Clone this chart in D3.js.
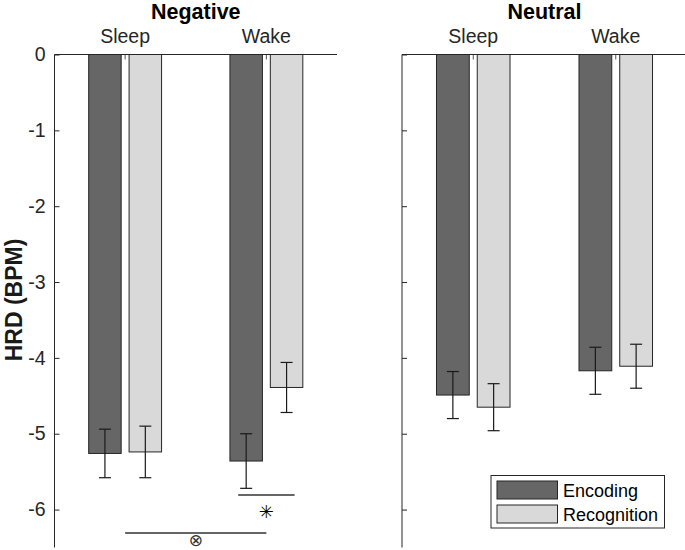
<!DOCTYPE html>
<html><head><meta charset="utf-8">
<script src="https://cdn.jsdelivr.net/npm/d3@7"></script>
<style>body{margin:0;background:#fff}svg{display:block;font-family:"Liberation Sans",Arial,sans-serif}</style>
</head><body><svg id="c" width="685" height="550"></svg>
<script>
const panels = ["Negative", "Neutral"];
const groups = ["Sleep", "Wake"];
const series = ["Encoding", "Recognition"];
const colors = ["#666666", "#d9d9d9"];
// values[group][series]
const negMeans = [[-5.26, -5.24], [-5.36, -4.39]];
const negErrs  = [[0.32, 0.34], [0.36, 0.33]];
const neuMeans = [[-4.49, -4.65], [-4.17, -4.11]];
const neuErrs  = [[0.31, 0.31], [0.31, 0.29]];
const yTicks = [0, -1, -2, -3, -4, -5, -6];

const svg = d3.select("#c");
const y = d3.scaleLinear().domain([-6.5, 0]).range([547.5, 54.5]);
const panelX = [[54.5, 337], [402, 687]];
const means = [negMeans, neuMeans];
const errs = [negErrs, neuErrs];

panels.forEach((p, pi) => {
  const x = d3.scaleLinear().domain([0.5, 2.5]).range(panelX[pi]);
  const g = svg.append("g");
  const step = x(2) - x(1);
  const bw = step * 0.23;
  const off = step * 0.143;
  groups.forEach((grp, gi) => {
    const cx = x(gi + 1);
    series.forEach((s, si) => {
      const bx = cx + (si === 0 ? -off : off);
      const v = means[pi][gi][si];
      g.append("rect").attr("x", bx - bw / 2).attr("y", y(0)).attr("width", bw)
        .attr("height", y(v) - y(0)).attr("fill", colors[si]).attr("stroke", "#262626").attr("stroke-width", 1);
      const e = errs[pi][gi][si];
      const el = g.append("g").attr("stroke", "#1a1a1a").attr("stroke-width", 1.2);
      el.append("line").attr("x1", bx).attr("x2", bx).attr("y1", y(v + e)).attr("y2", y(v - e));
      [v + e, v - e].forEach(t => el.append("line").attr("x1", bx - 6).attr("x2", bx + 6).attr("y1", y(t)).attr("y2", y(t)));
    });
    g.append("line").attr("x1", cx).attr("x2", cx).attr("y1", y(0)).attr("y2", y(0) + 5)
      .attr("stroke", "#555").attr("stroke-width", 1);
    g.append("text").attr("x", cx).attr("y", 43).attr("text-anchor", "middle")
      .attr("font-size", 19.5).attr("fill", "#262626").text(grp);
  });
  const ax = d3.axisRight(y).tickValues(yTicks).tickSize(5)
    .tickFormat(pi === 0 ? (d => d === 0 ? "0" : "-" + Math.abs(d)) : () => "");
  const axg = g.append("g").attr("transform", `translate(${panelX[pi][0]},0)`).call(ax);
  axg.select(".domain").remove();
  axg.selectAll(".tick line").attr("stroke", "#262626");
  axg.selectAll(".tick text").attr("x", -9).attr("text-anchor", "end").attr("font-size", 19.5)
    .attr("fill", "#262626").attr("font-family", "Liberation Sans, Arial, sans-serif");
  g.append("line").attr("x1", panelX[pi][0]).attr("x2", panelX[pi][0]).attr("y1", y(0)).attr("y2", 547.5).attr("stroke", "#262626");
  g.append("line").attr("x1", panelX[pi][0]).attr("x2", panelX[pi][1]).attr("y1", y(0)).attr("y2", y(0)).attr("stroke", "#262626");
  g.append("text").attr("x", (x(1) + x(2)) / 2).attr("y", 19).attr("text-anchor", "middle")
    .attr("font-size", 21.5).attr("font-weight", "bold").attr("fill", "#000").text(p);

  if (pi === 0) {
    const xs = (gi, si) => x(gi + 1) + (si === 0 ? -off : off);
    g.append("line").attr("x1", xs(1, 0) - 8).attr("x2", xs(1, 1) + 8).attr("y1", 495).attr("y2", 495)
      .attr("stroke", "#333").attr("stroke-width", 1.5);
    g.append("text").attr("x", x(2)).attr("y", 517.5).attr("text-anchor", "middle").attr("font-size", 18)
      .attr("fill", "#000").attr("font-family", "DejaVu Sans").text("✳");
    g.append("line").attr("x1", x(1)).attr("x2", x(2)).attr("y1", 533).attr("y2", 533)
      .attr("stroke", "#333").attr("stroke-width", 1.5);
    g.append("text").attr("x", (x(1) + x(2)) / 2).attr("y", 546).attr("text-anchor", "middle").attr("font-size", 17)
      .attr("fill", "#333").attr("font-family", "DejaVu Sans").text("⊗");
  }
});

svg.append("text").attr("transform", "translate(21.5,300) rotate(-90)").attr("text-anchor", "middle")
  .attr("font-size", 23).attr("font-weight", "bold").attr("fill", "#1a1a1a").text("HRD (BPM)");

const lg = svg.append("g");
lg.append("rect").attr("x", 491).attr("y", 475.5).attr("width", 173.5).attr("height", 52.5)
  .attr("fill", "#fff").attr("stroke", "#262626");
series.forEach((s, i) => {
  lg.append("rect").attr("x", 497).attr("y", 481 + i * 24).attr("width", 60.5).attr("height", 18)
    .attr("fill", colors[i]).attr("stroke", "#262626");
  lg.append("text").attr("x", 563).attr("y", 497 + i * 24).attr("font-size", 18).attr("fill", "#000").text(s);
});
</script></body></html>
